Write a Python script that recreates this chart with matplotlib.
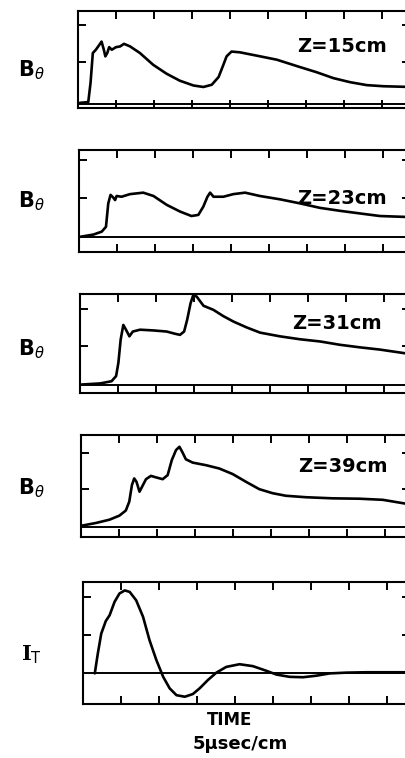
import numpy as np
import matplotlib.pyplot as plt

# -----------------------
# Traces
# time in screen divisions (1 div = 1 cm = 5 usec), signal in divisions
# -----------------------
t15 = [0.05, 0.27, 0.33, 0.39, 0.47, 0.56, 0.62, 0.68, 0.72, 0.77, 0.82, 0.89, 1.00, 1.11,
       1.21, 1.37, 1.63, 1.98, 2.33, 2.68, 3.04, 3.30, 3.52, 3.70, 3.81, 3.91, 4.04, 4.26,
       4.70, 5.23, 5.84, 6.28, 6.72, 7.16, 7.60, 8.04, 8.75]
b15 = [0.02, 0.04, 0.56, 1.37, 1.46, 1.59, 1.68, 1.46, 1.28, 1.37, 1.53, 1.46, 1.53, 1.55,
       1.62, 1.55, 1.37, 1.05, 0.81, 0.62, 0.49, 0.45, 0.51, 0.72, 1.01, 1.28, 1.41, 1.39,
       1.30, 1.19, 0.99, 0.85, 0.69, 0.58, 0.50, 0.47, 0.45]

t23 = [0.03, 0.38, 0.60, 0.71, 0.77, 0.83, 0.90, 0.95, 0.99, 1.12, 1.34, 1.69, 1.96, 2.31,
       2.66, 2.96, 3.14, 3.27, 3.38, 3.45, 3.54, 3.80, 4.06, 4.37, 4.76, 5.29, 5.82, 6.34,
       6.87, 7.39, 7.92, 8.75]
b23 = [0.00, 0.06, 0.14, 0.27, 0.90, 1.13, 1.06, 0.99, 1.10, 1.08, 1.15, 1.19, 1.10, 0.86,
       0.68, 0.56, 0.59, 0.81, 1.08, 1.19, 1.08, 1.08, 1.15, 1.19, 1.10, 1.01, 0.90, 0.78,
       0.70, 0.63, 0.56, 0.53]

t31 = [0.04, 0.53, 0.83, 0.95, 1.01, 1.07, 1.14, 1.21, 1.30, 1.39, 1.58, 1.93, 2.28, 2.50,
       2.63, 2.74, 2.82, 2.91, 2.98, 3.07, 3.25, 3.51, 3.77, 4.04, 4.39, 4.74, 5.26, 5.79,
       6.32, 6.84, 7.37, 7.89, 8.75]
b31 = [0.00, 0.03, 0.09, 0.23, 0.59, 1.22, 1.62, 1.49, 1.31, 1.44, 1.49, 1.47, 1.44, 1.38,
       1.35, 1.44, 1.76, 2.21, 2.43, 2.39, 2.14, 2.03, 1.86, 1.71, 1.55, 1.41, 1.31, 1.23,
       1.17, 1.08, 1.01, 0.95, 0.82]

t39 = [0.03, 0.39, 0.75, 1.01, 1.18, 1.27, 1.34, 1.40, 1.46, 1.54, 1.61, 1.71, 1.84, 1.97,
       2.15, 2.28, 2.39, 2.50, 2.59, 2.66, 2.76, 2.94, 3.29, 3.64, 3.99, 4.34, 4.69, 5.04,
       5.39, 5.92, 6.62, 7.32, 7.94, 8.75]
b39 = [0.04, 0.11, 0.20, 0.31, 0.45, 0.69, 1.14, 1.32, 1.23, 0.96, 1.10, 1.30, 1.39, 1.35,
       1.30, 1.41, 1.82, 2.09, 2.18, 2.05, 1.84, 1.75, 1.68, 1.59, 1.44, 1.23, 1.03, 0.92,
       0.85, 0.81, 0.78, 0.77, 0.74, 0.60]

tI = [0.31, 0.39, 0.48, 0.60, 0.70, 0.83, 0.96, 1.10, 1.23, 1.40, 1.58, 1.75, 1.93, 2.11,
      2.28, 2.46, 2.68, 2.89, 3.07, 3.29, 3.51, 3.77, 4.12, 4.47, 4.82, 5.09, 5.44, 5.79,
      6.14, 6.49, 6.93, 7.46, 8.75]
iT = [0.00, 0.52, 1.04, 1.37, 1.52, 1.87, 2.09, 2.17, 2.13, 1.91, 1.48, 0.87, 0.35, -0.09,
      -0.39, -0.57, -0.61, -0.54, -0.39, -0.17, 0.02, 0.17, 0.24, 0.19, 0.07, -0.03, -0.09,
      -0.10, -0.06, 0.00, 0.02, 0.03, 0.03]

labels = [r"B$_\theta$", r"B$_\theta$", r"B$_\theta$", r"B$_\theta$", r"I$_\mathrm{T}$"]
z_text = ["Z=15cm", "Z=23cm", "Z=31cm", "Z=39cm", None]
traces = [(t15, b15), (t23, b23), (t31, b31), (t39, b39), (tI, iT)]

# -----------------------
# Layout (pixels on a 406 x 758 canvas)
# left, top, bottom, ylim, yticks, label y, z-label centre
# -----------------------
W, H = 406, 758
px_per_div = 38.0
geom = [
    (78, 11, 108, (-0.12, 2.51), [1.13, 2.14], 70, (342, 46)),
    (79, 150, 252, (-0.41, 2.34), [1.04, 2.07], 201, (342, 199)),
    (80, 294, 393, (-0.23, 2.46), [1.04, 2.05], 349, (337, 323)),
    (81, 435, 537, (-0.27, 2.50), [1.03, 2.00], 488, (343, 467)),
    (83, 582, 704, (-0.80, 2.39), [1.00, 2.00], 655, None),
]

fig = plt.figure(figsize=(W / 100, H / 100), dpi=100)
fig.patch.set_facecolor("white")

for i, ((t, y), (left, top, bot, ylim, yt, ly, zc), lab, zt) in enumerate(
        zip(traces, geom, labels, z_text)):
    right = 410
    ax = fig.add_axes([left / W, 1 - bot / H, (right - left) / W, (bot - top) / H])
    ax.plot(t, y, color="black", lw=1.9, solid_joinstyle="round", solid_capstyle="round")
    ax.axhline(0, color="black", lw=1.4)
    ax.set_xlim(0, (right - left) / px_per_div)
    ax.set_ylim(*ylim)
    ax.set_xticks(np.arange(1, 9))
    ax.set_yticks(yt)
    ax.tick_params(direction="in", length=6, width=1.4, top=True, right=True,
                   labelbottom=False, labelleft=False)
    for s in ax.spines.values():
        s.set_linewidth(1.5)

    fam = "DejaVu Serif" if i == 4 else "DejaVu Sans"
    fig.text(31 / W, 1 - ly / H, lab, fontsize=15, fontweight="bold", family=fam,
             ha="center", va="center")
    if zt is not None:
        fig.text(zc[0] / W, 1 - zc[1] / H, zt, fontsize=14, fontweight="bold",
                 ha="center", va="center")

fig.text(230 / W, 1 - 720 / H, "TIME", fontsize=12, fontweight="bold",
         ha="center", va="center")
fig.text(240 / W, 1 - 744 / H, "5\u03bcsec/cm", fontsize=13, fontweight="bold",
         ha="center", va="center")

plt.savefig("out.png", dpi=100, facecolor="white")
